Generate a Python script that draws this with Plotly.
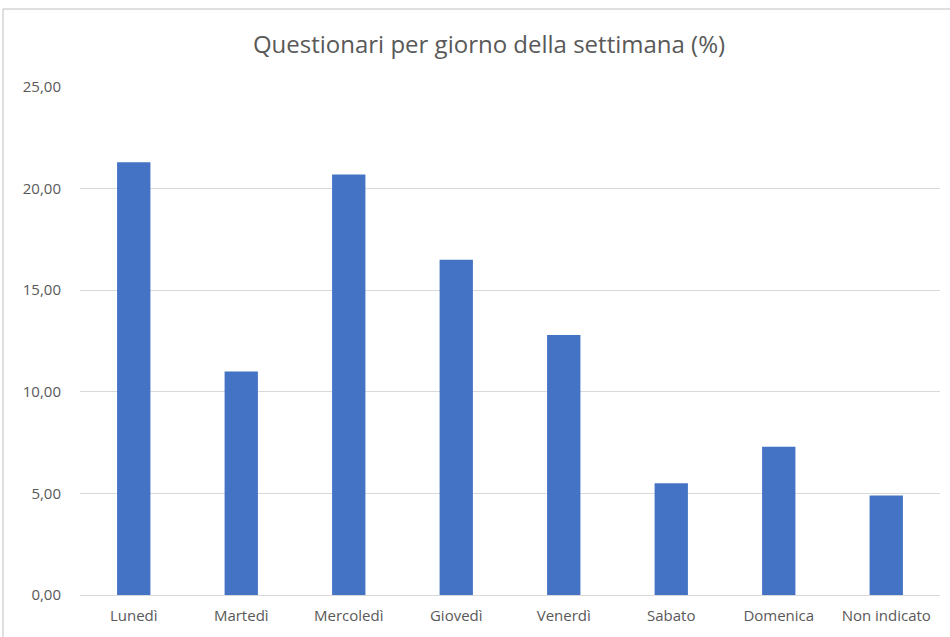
import plotly.graph_objects as go

categories = ["Lunedì", "Martedì", "Mercoledì", "Giovedì", "Venerdì", "Sabato", "Domenica", "Non indicato"]
values = [21.3, 11.0, 20.7, 16.5, 12.8, 5.5, 7.3, 4.9]
y_ticks = [0, 5, 10, 15, 20, 25]

fig = go.Figure()
fig.add_trace(go.Bar(
    x=categories, y=values,
    marker=dict(color="#4472C4", line=dict(width=0)),
    hoverinfo="x+y",
))

fig.update_layout(
    width=950, height=637,
    margin=dict(l=80, r=10, t=87, b=42),
    paper_bgcolor="white", plot_bgcolor="white",
    separators=",.",
    bargap=0.69,
    showlegend=False,
    font=dict(family="Open Sans, Noto Sans, sans-serif", color="#595959", size=15),
    title=dict(
        text="Questionari per giorno della settimana (%)",
        x=489 / 950, xanchor="center", xref="container",
        y=1 - 45 / 637, yanchor="middle", yref="container",
        font=dict(family="Open Sans, Noto Sans, sans-serif", size=24, color="#595959"),
    ),
    xaxis=dict(
        showgrid=False, showline=False, ticks="", zeroline=False,
        ticklabelstandoff=10,
        tickfont=dict(size=15, color="#595959"),
    ),
    yaxis=dict(
        range=[0, 25], tickvals=y_ticks, tickformat=".2f",
        showgrid=True, gridcolor="#D9D9D9", gridwidth=1,
        zeroline=True, zerolinecolor="#D9D9D9", zerolinewidth=1,
        showline=False, ticks="", ticklabelstandoff=18,
        tickfont=dict(size=15, color="#595959"),
    ),
    shapes=[dict(
        type="rect", xref="paper", yref="paper",
        x0=(3 - 80) / 860, x1=(952 - 80) / 860,
        y0=(595 - 640) / 508, y1=(595 - 9) / 508,
        line=dict(color="#BFBFBF", width=1), fillcolor="rgba(0,0,0,0)",
        layer="below",
    )],
)

fig.write_html("out.html")
